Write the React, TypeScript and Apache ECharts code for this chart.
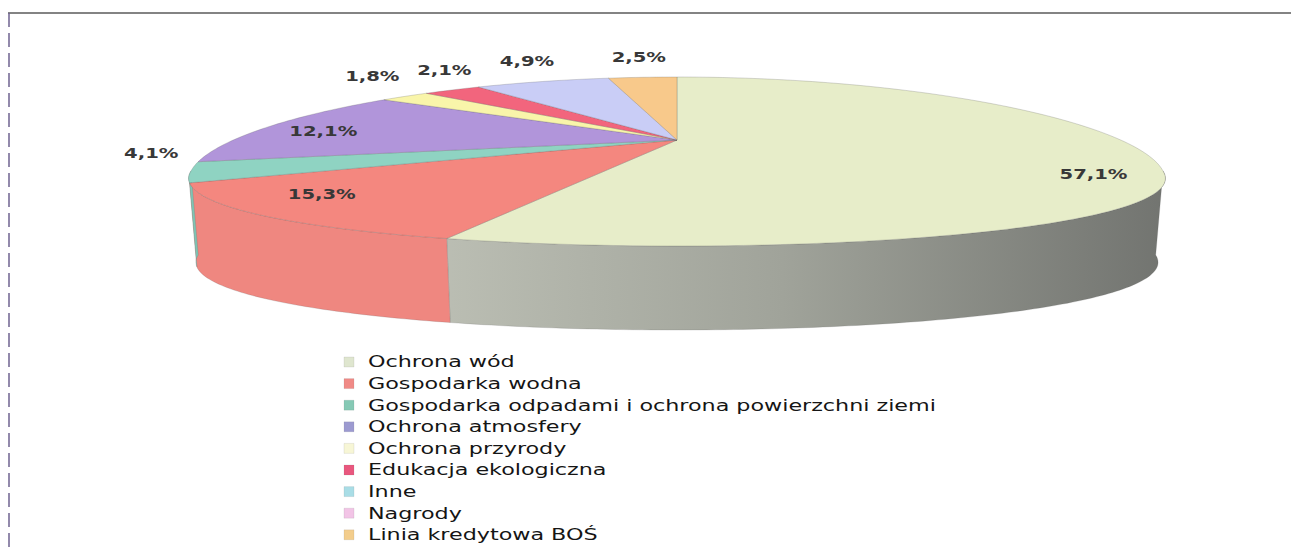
import React, { useEffect, useRef } from 'react';
import * as echarts from 'echarts';

const categories = [
  'Ochrona wód',
  'Gospodarka wodna',
  'Gospodarka odpadami i ochrona powierzchni ziemi',
  'Ochrona atmosfery',
  'Ochrona przyrody',
  'Edukacja ekologiczna',
  'Inne',
  'Nagrody',
  'Linia kredytowa BOŚ',
];
const shares = [57.1, 15.3, 4.1, 12.1, 1.8, 2.1, 4.9, 0, 2.5];
const sliceColors = ['#e7edc9', '#f4877f', '#8fd3c2', '#b195da', '#f9f5aa', '#f2657d', '#c9cdf6', '#f5c2ea', '#f8c98b'];
const sideColors = ['#a5a89e', '#ef8780', '#80c4b4', '#9f83c8', '#e9e59a', '#dd5a70', '#b5b9e6', '#e3b0d8', '#e8b97c'];
const legendColors = ['#dfe6cf', '#f08a86', '#86c9b5', '#9c9ad0', '#f7f6d6', '#e9577e', '#a9dde6', '#f2c4e6', '#f3cd8c'];

const CX = 677;
const CY = 171;
const RX = 486;
const RY_BACK = 94;
const RY_FRONT = 75;
const PERSP = 0.1;
const DEPTH = 84;
const BOTTOM_SHRINK = 0.985;
const APEX_Y = 140;
const FONT = '"DejaVu Sans", Verdana, sans-serif';

export default function App() {
  const ref = useRef<HTMLDivElement>(null);

  useEffect(() => {
    const chart = echarts.init(ref.current as HTMLDivElement, null, { renderer: 'svg' });
    const total = shares.reduce((a, b) => a + b, 0);
    const cum: number[] = [];
    let acc = 0;
    shares.forEach((v) => {
      cum.push(acc);
      acc += v;
    });
    const deg = Math.PI / 180;
    const pt = (a: number, dy = 0): number[] => {
      const c = Math.cos(a * deg);
      const s = Math.sin(a * deg);
      const ry = s > 0 ? RY_BACK : RY_FRONT;
      const shrink = dy ? BOTTOM_SHRINK : 1;
      return [CX + RX * c * (1 - PERSP * s) * shrink, CY - ry * s + dy];
    };
    const arc = (a0: number, a1: number, dy = 0): number[][] => {
      const n = Math.max(2, Math.ceil(Math.abs(a1 - a0)));
      const pts: number[][] = [];
      for (let k = 0; k <= n; k++) pts.push(pt(a0 + ((a1 - a0) * k) / n, dy));
      return pts;
    };
    const fmt = (v: number) => v.toFixed(1).replace('.', ',') + '%';
    const angles = shares.map((v, i) => [90 - (cum[i] / total) * 360, 90 - ((cum[i] + v) / total) * 360]);

    // label positions
    const apex = [CX, APEX_Y];
    const labelPos: (number[] | null)[] = shares.map((v, i) => {
      if (!v) return null;
      const mid = (angles[i][0] + angles[i][1]) / 2;
      const c = Math.cos(mid * deg);
      const s = Math.sin(mid * deg);
      if (v >= 10) {
        const e = pt(mid);
        return [apex[0] + 0.86 * (e[0] - apex[0]), apex[1] + 0.72 * (e[1] - apex[1])];
      }
      const ry = s > 0 ? RY_BACK : RY_FRONT;
      return [CX + RX * c + Math.sign(c) * 40 * Math.pow(Math.abs(c), 3), CY - ry * s - 20];
    });
    // simple collision avoidance for outer labels
    const outer = shares
      .map((v, i) => i)
      .filter((i) => shares[i] && shares[i] < 10)
      .sort((a, b) => (labelPos[a] as number[])[0] - (labelPos[b] as number[])[0]);
    for (let k = 1; k < outer.length; k++) {
      const p = labelPos[outer[k - 1]] as number[];
      const q = labelPos[outer[k]] as number[];
      if (Math.abs(p[1] - q[1]) < 18 && q[0] - p[0] < 72) q[0] = p[0] + 72;
    }

    const renderItem = (params: any) => {
      const i = params.dataIndex;
      const v = shares[i];
      if (!v) return { type: 'group', children: [] };
      const [a0, a1] = angles[i];
      const children: any[] = [];
      const s0 = Math.min(a0, 0);
      const s1 = Math.max(a1, -180);
      if (s0 > s1) {
        const pts = arc(s0, s1).concat(arc(s1, s0, DEPTH));
        const fill =
          i === 0
            ? new echarts.graphic.LinearGradient(
                400, 0, 1165, 0,
                [
                  { offset: 0, color: '#bec1b6' },
                  { offset: 0.5, color: '#a0a39a' },
                  { offset: 1, color: '#727470' },
                ],
                true
              )
            : sideColors[i];
        children.push({
          type: 'polygon',
          z2: 1,
          shape: { points: pts },
          style: { fill, stroke: 'rgba(90,90,90,0.3)', lineWidth: 0.6 },
        });
      }
      children.push({
        type: 'polygon',
        z2: 2,
        shape: { points: [apex].concat(arc(a0, a1)) },
        style: { fill: sliceColors[i], stroke: 'rgba(90,90,90,0.4)', lineWidth: 0.6 },
      });
      const lp = labelPos[i] as number[];
      children.push({
        type: 'text',
        z2: 3,
        x: lp[0],
        y: lp[1],
        scaleX: 1.4,
        style: {
          text: fmt(v),
          font: `bold 14px ${FONT}`,
          fill: '#383838',
          align: 'center',
          verticalAlign: 'middle',
        },
      });
      return { type: 'group', children };
    };

    const legendItems: any[] = [];
    categories.forEach((name, i) => {
      const y = 362 + i * 21.6;
      legendItems.push({
        type: 'rect',
        shape: { x: 344, y: y - 5, width: 10, height: 10 },
        style: { fill: legendColors[i], stroke: 'rgba(120,120,120,0.25)', lineWidth: 0.5 },
      });
      legendItems.push({
        type: 'text',
        x: 368,
        y,
        scaleX: 1.39,
        style: {
          text: name,
          font: `16px ${FONT}`,
          fill: '#151515',
          verticalAlign: 'middle',
        },
      });
    });

    chart.setOption({
      animation: false,
      backgroundColor: '#ffffff',
      series: [
        {
          type: 'custom',
          coordinateSystem: 'none',
          renderItem,
          data: shares.map((v, i) => ({ name: categories[i], value: [v] })),
        },
      ],
      graphic: [
        {
          type: 'line',
          shape: { x1: 8, y1: 13, x2: 1291, y2: 13 },
          style: { stroke: '#5a5a5a', lineWidth: 1.5 },
        },
        {
          type: 'line',
          shape: { x1: 9, y1: 13, x2: 9, y2: 550 },
          style: { stroke: '#6f6390', lineWidth: 1.5, lineDash: [14, 6] },
        },
        ...legendItems,
      ],
    });
    return () => chart.dispose();
  }, []);

  return (
    <div
      ref={ref}
      style={{ position: 'fixed', left: 0, top: 0, width: 1291, height: 550, background: '#fff' }}
    />
  );
}
